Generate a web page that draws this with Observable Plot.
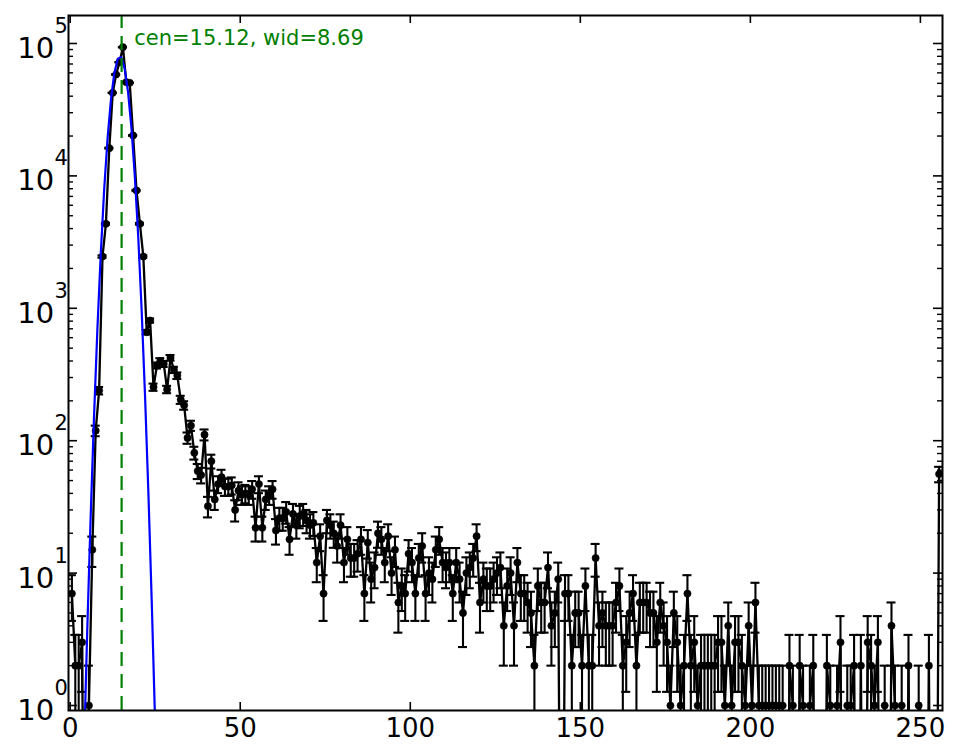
<!DOCTYPE html>
<html>
<head>
<meta charset="utf-8">
<script src="https://cdn.jsdelivr.net/npm/d3@7"></script>
<script src="https://cdn.jsdelivr.net/npm/@observablehq/plot@0.6"></script>
<style>
  html, body { margin: 0; padding: 0; background: #ffffff; }
  #chart svg { display: block; }
</style>
</head>
<body>
<div id="chart"></div>
<script>
// ---- data (counts per channel 0..255, plotted at bin centres) ----
const counts = [
  7, 2, 2, 3, 0, 1, 15, 119, 239, 2460,
  4350, 16200, 42400, 58300, 72200, 93800, 51000, 50500, 20200, 7760,
  4350, 2460, 660, 809, 254, 370, 400, 380, 244, 423,
  343, 310, 204, 185, 105, 130, 81, 59, 55, 111,
  32, 70, 36, 47, 53, 45, 45, 46, 30, 42,
  39, 40, 39, 43, 22, 47, 22, 36, 39, 43,
  21, 26, 26, 29, 18, 28, 23, 27, 28, 25,
  23, 24, 12, 19, 7, 25, 23, 20, 16, 23,
  12, 18, 13, 13, 14, 18, 7, 17, 9, 11,
  20, 18, 12, 19, 10, 15, 6, 8, 7, 14,
  12, 7, 13, 16, 7, 10, 9, 15, 18, 12,
  11, 12, 7, 12, 9, 5, 10, 11, 13, 19,
  6, 9, 8, 8, 9, 10, 11, 4, 8, 10,
  4, 12, 7, 7, 6, 5, 2, 8, 6, 6,
  11, 4, 5, 9, 0, 7, 7, 2, 5, 5,
  2, 8, 2, 2, 13, 4, 5, 4, 4, 4,
  6, 8, 2, 3, 5, 7, 2, 6, 6, 6,
  5, 5, 3, 6, 4, 3, 1, 5, 3, 1,
  2, 7, 2, 3, 1, 2, 2, 2, 2, 2,
  3, 3, 1, 4, 1, 3, 3, 2, 1, 4,
  1, 6, 1, 1, 1, 1, 1, 1, 1, 1,
  0, 2, 1, 0, 2, 1, 0, 1, 2, 0,
  0, 0, 2, 1, 0, 1, 3, 0, 1, 1,
  2, 0, 2, 0, 3, 2, 1, 3, 0, 1,
  0, 4, 1, 0, 1, 0, 2, 0, 0, 1,
  0, 0, 2, 0, 0, 56
];

// Gaussian fit curve (blue)
const fitX = [3, 4, 5, 6, 7, 8, 9, 10, 11, 12, 13, 14, 15, 16, 17, 18, 19, 20, 21, 22, 23, 24, 25, 26, 27];
const fitY = [0.036, 0.40, 3.6, 25.8, 150, 700, 2620, 7960, 19400, 38100, 60200, 76700, 78800, 65100,
              43300, 23200, 10000, 3500, 980, 221, 40, 5.8, 0.70, 0.066, 0.005];
const fitCen = 15.12;
const fitWid = 8.69;

// axes
const xTicks = [0, 50, 100, 150, 200, 250];
const yExponents = [0, 1, 2, 3, 4, 5];
const xDomain = [-0.5, 256.5];
const yDomain = [0.9168, 162700];

// ---- layout ----
const W = 965, H = 756;
const mL = 68, mR = 23, mT = 15, mB = 46;
const plotW = W - mL - mR, plotH = H - mT - mB;
const FLOOR = 1e-3; // stand-in for clipped (non-positive) values on the log axis

const bins = counts.map((c, i) => ({x: i + 0.5, c}));
const pts = bins.filter(d => d.c > 0);
const fit = fitX.map((x, i) => ({x, y: fitY[i]}));

const yMajor = yExponents.map(e => 10 ** e);
const yMinor = [];
for (const e of [-1, 0, 1, 2, 3, 4, 5]) for (let k = 2; k <= 9; ++k) {
  const v = k * 10 ** e;
  if (v >= yDomain[0] && v <= yDomain[1]) yMinor.push(v);
}

const ink = "#000000";
const font = "DejaVu Sans";
const sw = 2.1;

const chart = Plot.plot({
  width: W, height: H,
  marginLeft: mL, marginRight: mR, marginTop: mT, marginBottom: mB,
  style: {fontFamily: font, background: "#ffffff", color: ink, overflow: "visible"},
  x: {domain: xDomain, axis: null},
  y: {type: "log", domain: yDomain, axis: null},
  marks: [
    // error bars
    Plot.ruleX(pts, {x: "x", y1: d => Math.max(d.c - Math.sqrt(d.c), FLOOR), y2: d => d.c + Math.sqrt(d.c),
      stroke: ink, strokeWidth: sw, clip: true}),
    Plot.ruleY(pts, {x1: "x", x2: "x", y: d => d.c + Math.sqrt(d.c), insetLeft: -4.5, insetRight: -4.5,
      stroke: ink, strokeWidth: sw, clip: true}),
    Plot.ruleY(pts.filter(d => d.c - Math.sqrt(d.c) > 0), {x1: "x", x2: "x", y: d => d.c - Math.sqrt(d.c),
      insetLeft: -4.5, insetRight: -4.5, stroke: ink, strokeWidth: sw, clip: true}),
    // data line
    Plot.line(bins, {x: "x", y: d => (d.c > 0 ? d.c : FLOOR), stroke: ink, strokeWidth: 2.3, clip: true}),
    Plot.dot(pts, {x: "x", y: "c", r: 3.6, fill: ink, stroke: ink, strokeWidth: 0.6, clip: true}),
    // gaussian fit
    Plot.line(fit, {x: "x", y: "y", stroke: "#0000ff", strokeWidth: 2.2, clip: true}),
    // centre line
    Plot.ruleX([fitCen], {x: d => d, y1: yDomain[0], y2: yDomain[1], stroke: "#008000", strokeWidth: 2.2,
      strokeDasharray: "14,8"}),
    // annotation
    Plot.text([`cen=${fitCen.toFixed(2)}, wid=${fitWid.toFixed(2)}`], {
      x: 18.82, y: 96600, text: d => d, textAnchor: "start", lineAnchor: "bottom",
      fill: "#008000", fontSize: 21}),
    // frame
    Plot.frame({stroke: ink, strokeWidth: 2}),
    // inward ticks, all four sides
    Plot.tickX(xTicks, {x: d => d, insetTop: plotH - 8, stroke: ink, strokeWidth: 1.6}),
    Plot.tickX(xTicks, {x: d => d, insetBottom: plotH - 8, stroke: ink, strokeWidth: 1.6}),
    Plot.tickY(yMajor, {y: d => d, insetRight: plotW - 9, stroke: ink, strokeWidth: 1.6}),
    Plot.tickY(yMajor, {y: d => d, insetLeft: plotW - 9, stroke: ink, strokeWidth: 1.6}),
    Plot.tickY(yMinor, {y: d => d, insetRight: plotW - 5, stroke: ink, strokeWidth: 1.4}),
    Plot.tickY(yMinor, {y: d => d, insetLeft: plotW - 5, stroke: ink, strokeWidth: 1.4}),
    // tick labels
    Plot.text(xTicks, {x: d => d, frameAnchor: "bottom", text: d => String(d), textAnchor: "middle",
      lineAnchor: "bottom", dy: 26, fontSize: 26, fill: ink}),
    Plot.text(yExponents, {y: e => 10 ** e, frameAnchor: "left", text: () => "10", textAnchor: "end",
      lineAnchor: "bottom", dx: -14.4, dy: 14.6, fontSize: 29, fill: ink}),
    Plot.text(yExponents, {y: e => 10 ** e, frameAnchor: "left", text: e => String(e), textAnchor: "start",
      lineAnchor: "bottom", dx: -14, dy: -10.4, fontSize: 21, fill: ink})
  ]
});
document.getElementById("chart").appendChild(chart);
</script>
</body>
</html>
